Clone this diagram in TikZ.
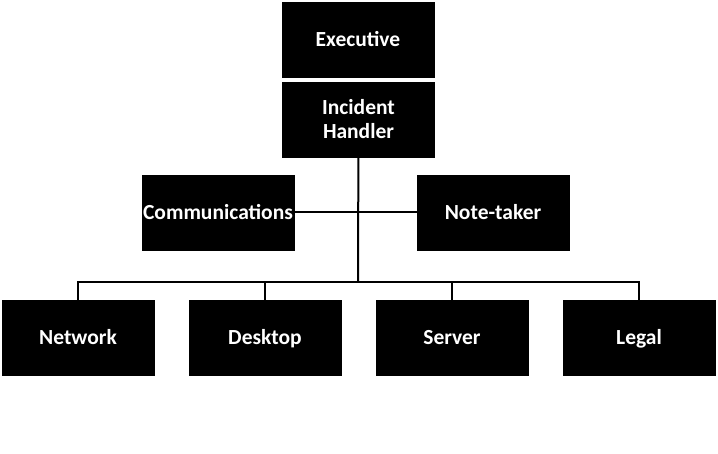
\documentclass[tikz,border=0pt]{standalone}
\usepackage{fontspec}
\setmainfont{Carlito}
\usepackage{tikz}
\tikzset{basic/.style={draw=black,fill=black,text=white,
                       font=\bfseries\fontsize{21.5}{24}\selectfont,
                       inner sep=0pt}}
\tikzset{role/.style={basic,rectangle,minimum width=152pt,minimum height=75pt}}
\tikzset{oneline/.style={role,text height=17pt,text depth=3pt}}

\begin{document}
\begin{tikzpicture}[x=1pt,y=-1pt,
    % styles for clarity
    link/.style ={draw, line width=2pt}
  ]
    \useasboundingbox (0,0) rectangle (718,454);

    \node[oneline](exec) at (358,40){Executive};
    \node[role,align=center](handler) at (358.5,119.5) {Incident\\Handler};
    \node[oneline](comms) at (218,212.5) {Communications};
    \node[oneline](notes) at (493,212.5) {Note-taker};
    \node[oneline](net) at (78,337.5) {Network};
    \node[oneline](desk) at (265,337.5) {Desktop};
    \node[oneline](serv) at (452,337.5) {Server};
    \node[oneline](legal) at (639,337.5) {Legal};
    \coordinate (hub) at (358,282);

    \draw[link] (handler) -- (hub);
    \draw[link] (comms) -- (notes);
    \draw[link] (hub) -| (net);
    \draw[link] (hub) -| (desk);
    \draw[link] (hub) -| (serv);
    \draw[link] (hub) -| (legal);
  \end{tikzpicture}
\end{document}
